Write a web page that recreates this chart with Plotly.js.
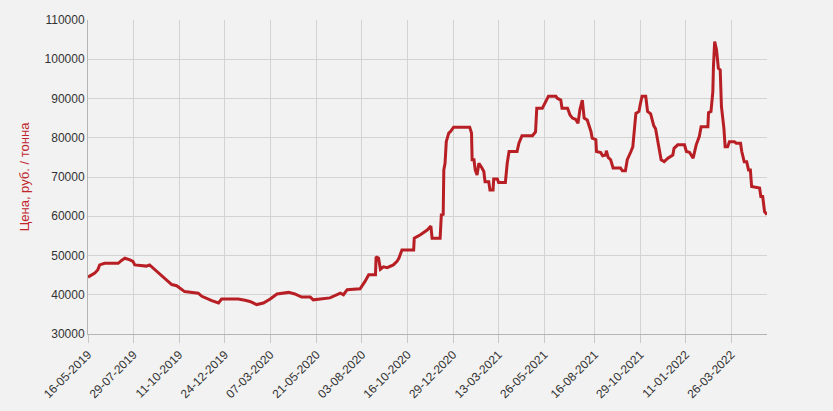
<!DOCTYPE html>
<html>
<head>
<meta charset="utf-8">
<script src="https://cdn.plot.ly/plotly-3.0.1.min.js"></script>
<style>html,body{margin:0;padding:0;background:#f2f2f2;}#chart{width:833px;height:411px;}</style>
</head>
<body>
<div id="chart"></div>
<script>
const dates = [
"2019-05-16","2019-05-22","2019-05-27","2019-06-01","2019-06-04","2019-06-12","2019-07-04","2019-07-10","2019-07-15","2019-07-23",
"2019-07-28","2019-07-31","2019-08-19","2019-08-24","2019-09-02","2019-09-10","2019-09-18","2019-09-29","2019-10-07","2019-10-20",
"2019-11-11","2019-11-17","2019-12-03","2019-12-14","2019-12-19","2020-01-15","2020-01-26","2020-02-03","2020-02-14","2020-02-25",
"2020-03-07","2020-03-18","2020-04-06","2020-04-16","2020-04-27","2020-05-11","2020-05-16","2020-06-12","2020-06-29","2020-07-04",
"2020-07-10","2020-07-31","2020-08-08","2020-08-14","2020-08-25","2020-08-26","2020-08-30","2020-09-02","2020-09-07","2020-09-13",
"2020-09-23","2020-09-29","2020-10-02","2020-10-07","2020-10-26","2020-10-27","2020-11-06","2020-11-17","2020-11-23","2020-11-25",
"2020-12-08","2020-12-10","2020-12-13","2020-12-14","2020-12-16","2020-12-18","2020-12-22","2020-12-25","2020-12-30","2021-01-25",
"2021-01-28","2021-01-29","2021-02-01","2021-02-03","2021-02-06","2021-02-09","2021-02-14","2021-02-17","2021-02-19","2021-02-25",
"2021-02-27","2021-03-04","2021-03-05","2021-03-11","2021-03-13","2021-03-24","2021-03-27","2021-03-30","2021-04-12","2021-04-15",
"2021-04-20","2021-05-07","2021-05-12","2021-05-14","2021-05-23","2021-05-26","2021-05-31","2021-06-02","2021-06-14","2021-06-16",
"2021-06-22","2021-06-24","2021-07-03","2021-07-07","2021-07-11","2021-07-16","2021-07-20","2021-07-23","2021-07-27","2021-07-30",
"2021-08-04","2021-08-07","2021-08-10","2021-08-12","2021-08-18","2021-08-19","2021-08-26","2021-08-29","2021-09-03","2021-09-04",
"2021-09-07","2021-09-11","2021-09-15","2021-09-27","2021-09-30","2021-10-05","2021-10-08","2021-10-14","2021-10-17","2021-10-22",
"2021-10-27","2021-10-29","2021-11-01","2021-11-07","2021-11-10","2021-11-15","2021-11-20","2021-11-23","2021-11-27","2021-12-02",
"2021-12-07","2021-12-13","2021-12-21","2021-12-23","2021-12-29","2022-01-09","2022-01-12","2022-01-17","2022-01-23","2022-01-25",
"2022-01-28","2022-02-02","2022-02-05","2022-02-16","2022-02-17","2022-02-21","2022-02-24","2022-02-25","2022-02-27","2022-03-02",
"2022-03-05","2022-03-08","2022-03-10","2022-03-14","2022-03-16","2022-03-20","2022-03-23","2022-03-31","2022-04-03","2022-04-10",
"2022-04-12","2022-04-16","2022-04-20","2022-04-23","2022-04-26","2022-04-28","2022-05-11","2022-05-13","2022-05-16","2022-05-19",
"2022-05-23"
];
const prices = [
44500,45000,45500,46400,47600,48000,48000,48800,49300,48900,
48500,47600,47300,47600,46400,45300,44200,42600,42300,40800,
40400,39600,38500,37900,38900,38900,38600,38300,37500,37900,
38900,40200,40600,40200,39400,39400,38700,39200,40400,40000,
41300,41500,43400,45100,45100,49700,49300,46500,47100,46900,
47600,48500,49300,51400,51400,54400,55300,56500,57500,54400,
54400,60400,60500,71800,73500,79000,81200,81600,82700,82700,
81200,74400,74400,71800,70500,73500,72300,71400,68800,68800,
66700,66700,69500,69500,68600,68600,73500,76500,76500,78600,
80500,80500,81500,87500,87500,88400,90100,90600,90600,90100,
89600,87500,87500,85800,85000,84700,83700,87100,89600,85000,
84500,83100,81600,79900,79500,76500,76200,75400,75600,76700,
75000,74400,72300,72300,71600,71600,74400,76500,77700,86200,
86700,88400,90600,90600,86700,86100,83100,82300,78500,74400,
73900,74800,75600,77300,78200,78200,76500,76300,74800,76100,
78200,80300,82800,82800,86400,86700,91700,98100,104500,102400,
97700,97300,87900,82400,77700,77700,79000,79000,78600,78600,
76500,73900,73900,71800,71800,67600,67200,65000,65000,61200,
60400
];
const tickDates = ["2019-05-16","2019-07-29","2019-10-11","2019-12-24","2020-03-07","2020-05-21","2020-08-03","2020-10-16","2020-12-29","2021-03-13","2021-05-26","2021-08-16","2021-10-29","2022-01-11","2022-03-26"];
const tickLabels = ["16-05-2019","29-07-2019","11-10-2019","24-12-2019","07-03-2020","21-05-2020","03-08-2020","16-10-2020","29-12-2020","13-03-2021","26-05-2021","16-08-2021","29-10-2021","11-01-2022","26-03-2022"];
const yTicks = [30000,40000,50000,60000,70000,80000,90000,100000,110000];
const yTitle = "Цена, руб. / тонна";

Plotly.newPlot('chart', [{
  x: dates, y: prices, type: 'scatter', mode: 'lines',
  line: {color: '#b81f24', width: 3}, hoverinfo: 'skip'
}], {
  width: 833, height: 411,
  margin: {l: 88, r: 66, t: 20, b: 77, pad: 0},
  paper_bgcolor: '#f2f2f2', plot_bgcolor: '#f2f2f2',
  font: {family: 'Liberation Sans, Arial, sans-serif', size: 12, color: '#333'},
  showlegend: false,
  xaxis: {
    type: 'date', range: ['2019-05-16', '2022-05-23'],
    tickmode: 'array', tickvals: tickDates, ticktext: tickLabels, tickangle: -45,
    showgrid: true, gridcolor: '#d3d3d3', gridwidth: 1,
    showline: true, linecolor: '#b5b5b5', linewidth: 1,
    ticks: 'outside', ticklen: 8, tickcolor: '#c8c8c8',
    zeroline: false, tickfont: {size: 12, color: '#333'}
  },
  yaxis: {
    range: [30000, 110000], tickmode: 'array', tickvals: yTicks, tickformat: 'd',
    showgrid: true, gridcolor: '#d3d3d3', gridwidth: 1,
    showline: true, linecolor: '#b5b5b5', linewidth: 1,
    ticks: '', zeroline: false, tickfont: {size: 12, color: '#333'},
    title: {text: yTitle, font: {size: 13, color: '#c0272d'}, standoff: 12}
  }
}, {staticPlot: true});
</script>
</body>
</html>
